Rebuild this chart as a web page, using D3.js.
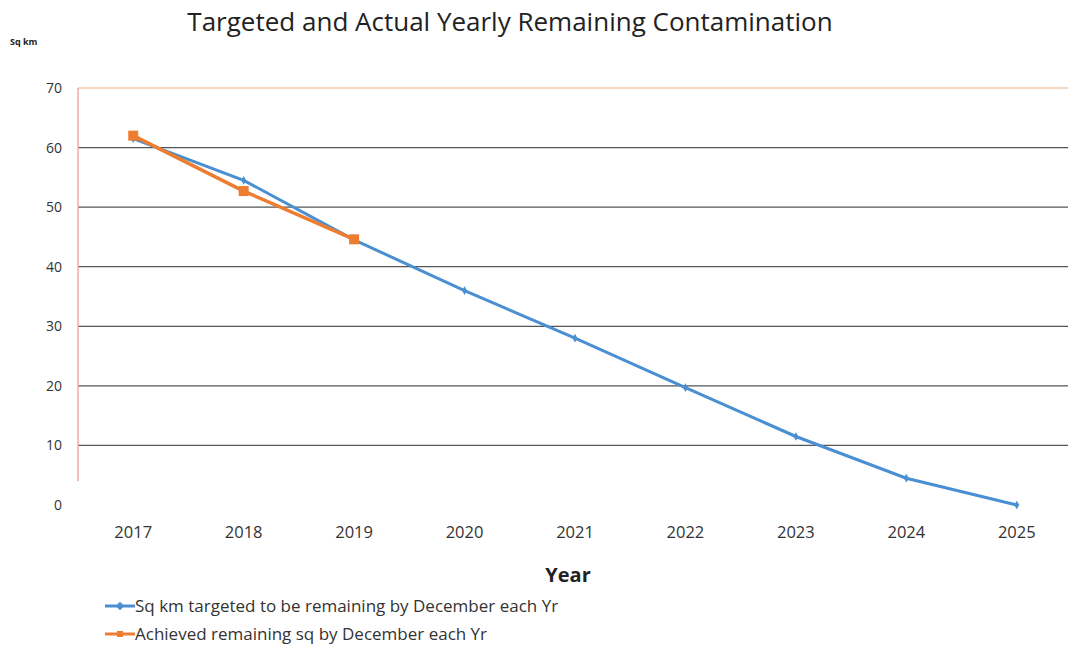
<!DOCTYPE html>
<html>
<head>
<style>
  body { margin: 0; background: #fff; }
  text { font-family: "Open Sans", "Liberation Sans", sans-serif; }
</style>
</head>
<body>
<div id="chart"></div>
<script src="https://d3js.org/d3.v7.min.js"></script>
<script>
var years = ["2017", "2018", "2019", "2020", "2021", "2022", "2023", "2024", "2025"]
var targeted = [61.5, 54.5, 44.5, 36, 28, 19.7, 11.5, 4.5, 0]
var achieved = [62, 52.7, 44.6]
var yTicks = [0, 10, 20, 30, 40, 50, 60, 70]
var seriesNames = ["Sq km targeted to be remaining by December each Yr",
                   "Achieved remaining sq by December each Yr"]

var width = 1068, height = 649
var plotLeft = 78, plotRight = 1072, plotTop = 88, plotBottom = 505

var svg = d3.select("#chart").append("svg")
  .attr("width", width)
  .attr("height", height)

var x = d3.scalePoint().domain(years).range([plotLeft, plotRight]).padding(0.5)
var y = d3.scaleLinear().domain([0, 70]).range([plotBottom, plotTop])

// title
svg.append("text")
  .attr("x", 510).attr("y", 31)
  .attr("text-anchor", "middle")
  .style("font-size", "26px")
  .style("fill", "#222")
  .text("Targeted and Actual Yearly Remaining Contamination")

svg.append("text")
  .attr("x", 10).attr("y", 45)
  .style("font-size", "9px")
  .style("font-weight", "bold")
  .style("fill", "#222")
  .text("Sq km")

// gridlines
svg.selectAll(".grid")
  .data(yTicks.filter(function(d) { return d > 0 }))
  .enter().append("line")
    .attr("x1", plotLeft).attr("x2", 1068)
    .attr("y1", function(d) { return y(d) })
    .attr("y2", function(d) { return y(d) })
    .attr("stroke", function(d) { return d == 70 ? "#f6c9a8" : "#555" })
    .attr("stroke-width", function(d) { return d == 70 ? 1.5 : 1.2 })

// left axis line (light red)
svg.append("line")
  .attr("x1", plotLeft).attr("x2", plotLeft)
  .attr("y1", y(70)).attr("y2", y(4))
  .attr("stroke", "#f4a7a0").attr("stroke-width", 1.5)

// y labels
svg.selectAll(".ylab")
  .data(yTicks)
  .enter().append("text")
    .attr("x", 62)
    .attr("y", function(d) { return y(d) + 5 })
    .attr("text-anchor", "end")
    .style("font-size", "14px")
    .style("fill", "#333")
    .text(function(d) { return d })

// x labels
svg.selectAll(".xlab")
  .data(years)
  .enter().append("text")
    .attr("x", function(d) { return x(d) })
    .attr("y", 538)
    .attr("text-anchor", "middle")
    .style("font-size", "16.5px")
    .style("fill", "#333")
    .text(function(d) { return d })

svg.append("text")
  .attr("x", 568).attr("y", 582)
  .attr("text-anchor", "middle")
  .style("font-size", "20px")
  .style("font-weight", "bold")
  .style("fill", "#222")
  .text("Year")

var line = d3.line()
  .x(function(d, i) { return x(years[i]) })
  .y(function(d) { return y(d) })

// targeted series
svg.append("path")
  .datum(targeted)
  .attr("d", line)
  .attr("fill", "none")
  .attr("stroke", "#4a8fd1")
  .attr("stroke-width", 3)

svg.selectAll(".tdot")
  .data(targeted)
  .enter().append("path")
    .attr("d", d3.symbol().type(d3.symbolDiamond).size(22))
    .attr("transform", function(d, i) { return "translate(" + x(years[i]) + "," + y(d) + ")" })
    .attr("fill", "#4a8fd1")

// achieved series
svg.append("path")
  .datum(achieved)
  .attr("d", line)
  .attr("fill", "none")
  .attr("stroke", "#ed7d31")
  .attr("stroke-width", 3.5)

svg.selectAll(".adot")
  .data(achieved)
  .enter().append("rect")
    .attr("x", function(d, i) { return x(years[i]) - 5 })
    .attr("y", function(d) { return y(d) - 5 })
    .attr("width", 10).attr("height", 10)
    .attr("fill", "#ed7d31")

// legend
var colors = ["#4a8fd1", "#ed7d31"]
var leg = svg.selectAll(".leg")
  .data(seriesNames)
  .enter().append("g")
    .attr("transform", function(d, i) { return "translate(105," + (606 + i * 28) + ")" })

leg.append("line")
  .attr("x1", 0).attr("x2", 30)
  .attr("stroke", function(d, i) { return colors[i] })
  .attr("stroke-width", 3)

leg.append("rect")
  .attr("x", 12).attr("y", -3).attr("width", 6).attr("height", 6)
  .attr("fill", function(d, i) { return colors[i] })
  .attr("transform", function(d, i) { return i == 0 ? "rotate(45,15,0)" : null })

leg.append("text")
  .attr("x", 30).attr("y", 6)
  .style("font-size", "17px")
  .style("fill", "#333")
  .text(function(d) { return d })
</script>
</body>
</html>
